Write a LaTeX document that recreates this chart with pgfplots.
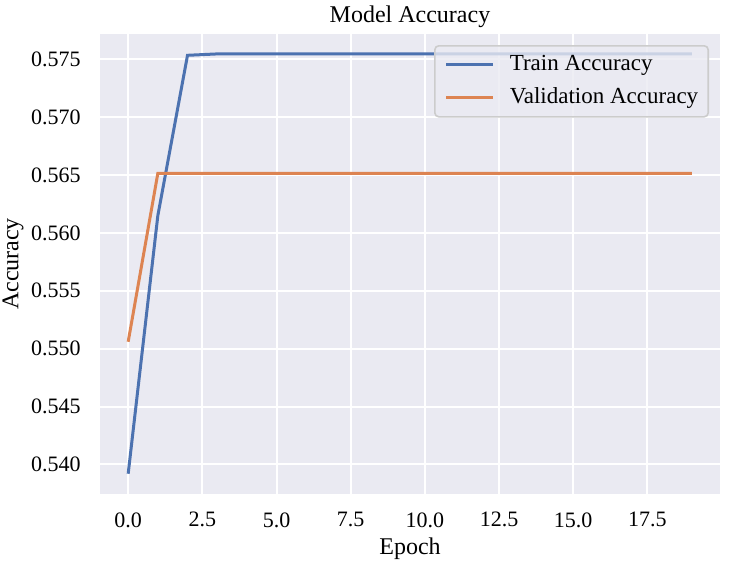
\documentclass[border=0pt]{standalone}
\usepackage{fontspec}
\setmainfont{Liberation Serif}
\usepackage{pgfplots}
\pgfplotsset{compat=1.18}

\definecolor{sbblue}{HTML}{4C72B0}
\definecolor{sborange}{HTML}{DD8452}
\definecolor{sbbg}{HTML}{EAEAF2}

\pgfplotstableread{
epoch train val
0  0.5392 0.5506
1  0.5615 0.56515
2  0.57534 0.56515
3  0.57546 0.56515
4  0.57546 0.56515
5  0.57546 0.56515
6  0.57546 0.56515
7  0.57546 0.56515
8  0.57546 0.56515
9  0.57546 0.56515
10 0.57546 0.56515
11 0.57546 0.56515
12 0.57546 0.56515
13 0.57546 0.56515
14 0.57546 0.56515
15 0.57546 0.56515
16 0.57546 0.56515
17 0.57546 0.56515
18 0.57546 0.56515
19 0.57546 0.56515
}\acc

\begin{document}
\begin{tikzpicture}
\begin{axis}[
    scale only axis,
    width=310bp,
    height=230bp,
    xmin=-0.95, xmax=19.95,
    ymin=0.53745, ymax=0.57718,
    axis background/.style={fill=sbbg},
    axis line style={draw=none},
    major tick length=0pt,
    grid=major,
    major grid style={white, line width=1bp},
    xtick={0,2.5,...,17.5},
    ytick={0.540,0.545,...,0.5751},
    /pgf/number format/assume math mode=true,
    xticklabel style={/pgf/number format/.cd, fixed, fixed zerofill, precision=1, /tikz/.cd},
    yticklabel style={/pgf/number format/.cd, fixed, fixed zerofill, precision=3, /tikz/.cd},
    ticklabel style={font=\fontsize{11bp}{13bp}\selectfont, inner sep=0pt},
    xticklabel style={anchor=north, yshift=-9bp},
    yticklabel style={anchor=east, xshift=-9.5bp},
    title={Model Accuracy},
    every axis title/.style={font=\fontsize{12bp}{14bp}\selectfont, at={(axis description cs:0.5,1)}, anchor=base, yshift=6bp},
    xlabel={Epoch},
    every axis x label/.style={font=\fontsize{12bp}{14bp}\selectfont, at={(axis description cs:0.5,0)}, anchor=base, yshift=-30bp},
    ylabel={Accuracy},
    every axis y label/.style={font=\fontsize{12bp}{14bp}\selectfont, at={([xshift=-40.8bp]axis description cs:0,0.5)}, rotate=90, anchor=base, inner sep=0pt},
    legend cell align=left,
    legend image code/.code={\draw[#1] (-2.5bp,0bp) -- (21bp,0bp);},
    legend style={
        at={(1,1)}, anchor=north east, xshift=-5.5bp, yshift=-5.5bp,
        font=\fontsize{11.5bp}{13bp}\selectfont,
        draw=black!20, line width=0.8bp, fill=sbbg, fill opacity=0.8, text opacity=1,
        rounded corners=2bp,
        inner xsep=5bp, inner ysep=4.25bp,
        row sep=6bp,
        nodes={inner sep=0pt, text height=8bp, text depth=2.5bp},
        /tikz/every odd column/.append style={column sep=7.5bp},
    },
]
\addplot[sbblue, line width=1.5bp] table[x=epoch, y=train] {\acc};
\addlegendentry{Train Accuracy}
\addplot[sborange, line width=1.5bp] table[x=epoch, y=val] {\acc};
\addlegendentry{Validation Accuracy}
\end{axis}
\pgfresetboundingbox
\path ([shift={(-50bp,-33.5bp)}]current axis.south west) rectangle ([shift={(6bp,17bp)}]current axis.north east);
\end{tikzpicture}
\end{document}
